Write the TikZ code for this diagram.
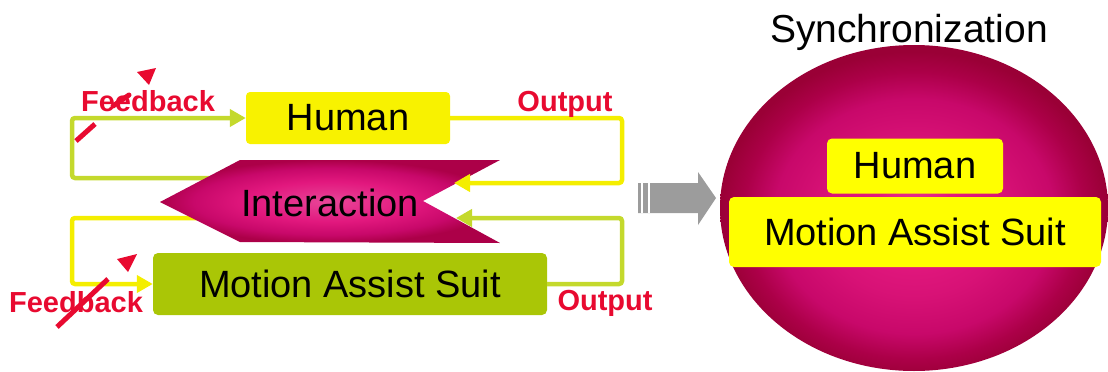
\documentclass[tikz,border=0pt]{standalone}
\usepackage{fontspec}
\setmainfont{Liberation Sans}
\usetikzlibrary{arrows.meta}

\definecolor{hyellow}{HTML}{F8F200}
\definecolor{syellow}{HTML}{FFFF00}
\definecolor{sgreen}{HTML}{AAC606}
\definecolor{lgreen}{HTML}{C4D92C}
\definecolor{lyellow}{HTML}{F4EE00}
\definecolor{fbred}{HTML}{E80A30}
\definecolor{magedge}{HTML}{9A0036}
\definecolor{magdark}{HTML}{AC0048}
\definecolor{magmid}{HTML}{C8086A}
\definecolor{maglight}{HTML}{E2187E}
\definecolor{garrow}{HTML}{9C9C9C}

% glowing magenta fill for the ball and the interaction arrow
% (the path's box spans the central 50bp of the shading)
\pgfdeclareradialshading{ballglow}{\pgfpoint{0bp}{-2bp}}{%
  color(0bp)=(maglight!80!white); color(6bp)=(maglight);
  color(12bp)=(maglight!60!magmid); color(18bp)=(magmid);
  color(22bp)=(magdark); color(25bp)=(magedge); color(50bp)=(magedge)}
\pgfdeclareradialshading{interglow}{\pgfpoint{0bp}{0bp}}{%
  color(0bp)=(maglight!80!white); color(12bp)=(maglight);
  color(20bp)=(magmid); color(25bp)=(magdark); color(50bp)=(magdark)}

\tikzset{
  boxtext/.style={font=\fontsize{38}{40}\selectfont, text=black, inner sep=0pt},
  hbox/.style={boxtext, fill=hyellow, rounded corners=4pt},
  sbox/.style={boxtext, fill=sgreen, rounded corners=5pt},
  ybox/.style={boxtext, fill=syellow, rounded corners=5pt},
  fb/.style={font=\fontsize{29}{30}\selectfont\bfseries, text=fbred, anchor=base, inner sep=0pt},
  conn/.style={line width=4.5pt, rounded corners=3pt,
    -{Triangle[length=16pt,width=17pt]}},
  redstroke/.style={fbred, line width=5pt},
}

\begin{document}
\begin{tikzpicture}[x=1pt,y=-1pt]
\useasboundingbox (0,0) rectangle (1108,372);

% ---- left: the interaction loop ----
\node[hbox, minimum width=204pt, minimum height=52pt] (hum) at (348,118) {Human};
\node[sbox, minimum width=394pt, minimum height=62pt] (suit) at (350,284) {Motion Assist Suit};

% connector ends hidden under / touching the interaction arrow
\coordinate (iLt) at (232,178);
\coordinate (iLb) at (232,218);
\coordinate (iRt) at (454,183);
\coordinate (iRb) at (456,218);

% feedback paths (start behind the arrow)
\draw[lgreen, conn] (iLt) -- (72,178) |- (hum.west);
\draw[lyellow, conn] (iLb) -- (72,218) |- (suit.west);

% interaction arrow
\shade[shading=interglow] (160,202) -- (240,160) -- (500,160) -- (423,201)
  -- (500,243) -- (240,242) -- cycle;
\node[boxtext] (inter) at (330,203) {Interaction};

% output paths
\draw[lyellow, conn] (hum.east) -- (622,118) |- (iRt);
\draw[lgreen, conn] (suit.east) -- (622,284) |- (iRb);

% labels
\node[fb] (fbtop) at (148,111) {Feedback};
\node[fb] (outtop) at (565,111) {Output};
\node[fb] (fbbot) at (76,312) {Feedback};
\node[fb] (outbot) at (605,310) {Output};

% hand-drawn red marks
\draw[redstroke] (76,141) -- (95,124);
\draw[redstroke, line cap=round] (113,106) -- (129,95);
\fill[fbred] (137,72) -- (156,68) -- (149,85) -- cycle;
\draw[redstroke] (57,327) -- (108,279);
\fill[fbred] (117,259) -- (137,254) -- (128,272) -- cycle;

% ---- middle: block arrow ----
\fill[garrow] (638,183) -- (698,183) -- (698,172) -- (716,198) -- (698,225)
  -- (698,213) -- (638,213) -- cycle;
\draw[white, line width=1.2pt] (642,183) -- (642,213);
\draw[white, line width=1.2pt] (649,183) -- (649,213);

% ---- right: synchronization ----
\node[font=\fontsize{39}{40}\selectfont, anchor=base, inner sep=0pt] (sync) at (909,42) {Synchronization};
\shade[shading=ballglow] (914,208) ellipse [x radius=194pt, y radius=163pt];
\node[ybox, minimum width=176pt, minimum height=55pt] (hum2) at (915,166) {Human};
\node[ybox, minimum width=372pt, minimum height=70pt] (suit2) at (915,232) {Motion Assist Suit};
\end{tikzpicture}
\end{document}
